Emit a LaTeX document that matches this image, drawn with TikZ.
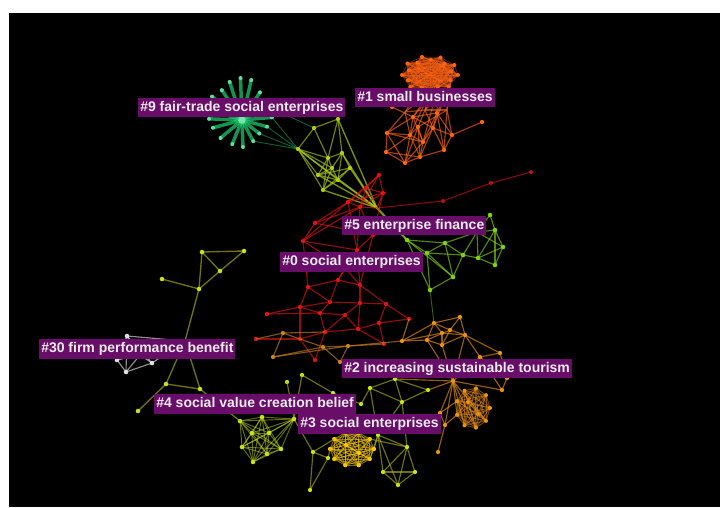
\documentclass[tikz,border=0pt]{standalone}
\usepackage{fontspec}
\setmainfont{Liberation Sans}
\usetikzlibrary{calc}
\definecolor{lab}{RGB}{104,14,104}
\definecolor{cG}{RGB}{30,210,115}
\definecolor{cO}{RGB}{255,100,20}
\definecolor{cYG}{RGB}{175,205,20}
\definecolor{cG5}{RGB}{130,210,20}
\definecolor{cR}{RGB}{225,20,20}
\definecolor{cO2}{RGB}{235,145,20}
\definecolor{cY3}{RGB}{245,200,10}
\definecolor{cOl}{RGB}{175,175,25}
\definecolor{cY4}{RGB}{200,225,30}
\definecolor{cW}{RGB}{225,225,225}
\definecolor{cB}{RGB}{200,130,30}
\tikzset{
  ed/.style={line width=0.85pt, opacity=0.65},
  edd/.style={line width=0.7pt, opacity=0.45},
  dense/.style={line width=0.7pt, opacity=0.5},
  lbl/.style={fill=lab, text=white!92!black, font=\bfseries\fontsize{10.5}{12}\selectfont,
    inner xsep=1.5pt, inner ysep=0pt, minimum height=14.5pt, text height=7.9pt, text depth=2.2pt, anchor=west},
}
\begin{document}
\begin{tikzpicture}[x=0.75pt,y=-0.75pt]
\useasboundingbox (0,0) rectangle (720,507);
\fill[white] (0,0) rectangle (720,507);
\fill[black] (9,13) rectangle (720,507);

% ---------- coordinates ----------
\foreach \n/\x/\y in {
 y1/314/128, y2/338/119, y3/298/149, y4/328/158, y5/342/153, y6/350/168, y7/318/175, y8/338/180, y9/323/190, y10/332/168, yc/377/208,
 rr1/443/201, rr2/491/183, rr3/531/172,
 o1/387/133, o2/386/152, o3/405/163, o4/420/157, o5/444/150, o6/452/135, o7/482/122, o8/410/135, o9/423/142, o10/433/128, o11/413/117, o12/437/113, o13/392/107,
 o14/405/112, o15/425/110, o16/447/110, o17/418/127,
 r1/379/175, r2/383/193, r3/348/202, r4/360/207, r5/315/223, r6/303/241, r7/373/235, r8/357/250, r9/366/188,
 r10/308/287, r11/338/280, r12/360/285, r13/330/302, r14/300/307, r15/320/313, r16/267/314, r17/360/303, r18/386/304, r19/345/315,
 r20/409/319, r21/379/323, r22/358/329, r23/325/332, r24/300/339, r25/256/339, r26/384/344, r27/315/360, r28/345/268,
 b1/283/333, b2/273/357, b3/340/362, b4/323/347, b5/348/346,
 p1/434/323, p2/460/317, p3/465/335, p4/402/341, p5/427/340, p6/442/345, p7/450/330, p8/442/333, p9/500/353, p10/480/357, p11/507/378, p12/502/390, ph/453/381,
 x1/440/413, x2/445/425, x3/438/452,
 s1/370/388, s2/395/379, s3/402/402, s4/428/390, s5/378/435, s6/407/447, s7/383/472, s8/415/472, s9/398/485,
 t1/287/382, t2/302/375, t3/333/393, t4/361/404,
 u1/313/452, u2/328/458, u3/310/490,
 f1/240/421, f2/252/433, f3/269/433, f4/262/417, f5/294/419, f6/281/449, f7/267/454, f8/253/462, f9/242/447,
 l1/202/252, l2/244/251, l3/220/271, l4/199/289, l5/162/279, l6/185/341, l7/166/384, l8/200/389, l9/138/411,
 w1/127/336, w2/152/363, w3/126/372, w4/117/360, w5/140/355,
 q1/407/240, q2/427/253, q3/445/243, q4/463/255, q5/453/277, q6/430/290, q7/477/232, q8/495/230, q9/503/247, q10/495/265, q11/478/258, q12/490/215
}{\coordinate (\n) at (\x,\y);}

% dense blobs
\coordinate (obc) at (430,75);
\foreach \a/\r [count=\i] in {0/1,22/0.8,45/0.95,68/0.75,90/1,112/0.8,135/1,158/0.85,180/1,200/0.8,220/1.05,238/0.85,255/1.1,272/0.9,290/1.1,308/0.85,326/1.05,344/0.8}
  {\coordinate (ob\i) at ($(obc)+(\a:{28*\r} and {17*\r})$);}
\coordinate (ob19) at (obc); \coordinate (ob20) at (418,68); \coordinate (ob21) at (441,81);
\coordinate (ob22) at (444,66); \coordinate (ob23) at (416,83);
\coordinate (yoc) at (352,449);
\foreach \a [count=\i] in {0,36,72,108,144,180,216,252,288,324}
  {\coordinate (yo\i) at ($(yoc)+(\a:22 and 17)$);}
\coordinate (yo11) at (346,445); \coordinate (yo12) at (359,453);
\coordinate (occ) at (473,408);
\foreach \a [count=\i] in {0,40,80,120,160,200,240,280,320}
  {\coordinate (oc\i) at ($(occ)+(\a:17 and 20)$);}
\coordinate (oc10) at (468,402); \coordinate (oc11) at (478,414);

% ---------- green star #9 ----------
\coordinate (g0) at (242,120);
\foreach \a/\r [count=\i] in {252/40,268/42,283/41,303/33,236/36,218/38,182/33,165/30,140/28,112/26,88/27,62/24,38/22,334/30,355/30,15/26,198/31,322/32}
 {\coordinate (g\i) at ($(g0)+(\a:\r)$);
  \draw[cG, line width=2.6pt, line cap=round, opacity=0.7] (g0) -- (g\i);
  \fill[cG!70!white] (g\i) circle (1.5pt);}
\fill[cG!60!white] (g0) circle (2.8pt);
\foreach \a/\b in {g13/y3, g15/y3, g12/y3, g14/y1, g16/y3}{\draw[edd,cG] (\a) -- (\b);}

% ---------- orange #1 ----------
\foreach \i in {1,...,23}{\foreach \j in {\i,...,23}{\draw[cO, line width=0.6pt, opacity=0.38] (ob\i) -- (ob\j);}}
\foreach \a/\b in {o1/o2,o1/o3,o2/o3,o1/o8,o2/o8,o3/o8,o1/o9,o3/o4,o4/o5,o5/o6,o6/o10,o6/o7,o10/o12,o11/o12,o11/o8,o8/o9,o9/o10,
 o9/o4,o4/o10,o5/o10,o3/o9,o4/o8,o11/o13,o1/o11,o12/o6,o11/o10,o12/ob3,o12/ob4,o11/ob5,o11/ob4,o10/ob3,o8/ob5,o9/ob4,o12/o9,o11/o9,o5/o12,o2/o4,
 o14/ob6,o14/ob5,o15/ob4,o15/ob5,o15/ob3,o16/ob2,o16/ob3,o14/o15,o15/o16,o14/o8,o15/o17,o16/o17,o17/o9,o17/o8,o17/o4,o16/o6,o14/o1,o15/o10,o17/o3,o16/o5}
 {\draw[ed,cO] (\a) -- (\b);}
\foreach \n in {o1,o2,o3,o4,o5,o6,o7,o8,o9,o10,o11,o12,o13,o17}{\fill[cO] (\n) circle (1.6pt);}
\foreach \i in {1,...,18}{\fill[cO] (ob\i) circle (1.5pt);}

% ---------- top yellow-green ----------
\foreach \a/\b in {y1/y2,y1/y4,y2/y5,y2/y4,y1/y3,y3/y4,y3/y7,y3/y9,y4/y5,y5/y6,y4/y7,y7/y8,y8/y9,y6/y8,y9/y4,y5/y8,y7/y6,y3/y8,y6/y9,
 y10/y4,y10/y5,y10/y7,y10/y8,y10/y9,y10/y3}{\draw[ed,cYG] (\a) -- (\b);}
\foreach \a in {y2,y3,y5,y6,y7,y8,y9}{\draw[cYG, line width=1pt, opacity=0.7] (\a) -- (yc);}
\draw[cYG, line width=1.5pt, opacity=0.75] (yc) -- (q1);
\foreach \n in {y1,y2,y3,y4,y5,y6,y7,y8,y9,y10}{\fill[cYG] (\n) circle (1.6pt);}

% ---------- red line ----------
\draw[cR, line width=0.8pt, opacity=0.6] (yc) -- (rr1) -- (rr2) -- (rr3);
\foreach \n in {rr1,rr2,rr3}{\fill[cR!85!black] (\n) circle (1.5pt);}

% ---------- red #0 ----------
\foreach \a/\b in {r1/r2,r1/r4,r2/r4,r3/r4,r3/r2,r1/r9,r9/r3,r9/r4,r4/yc,r2/yc,r5/r4,r5/r3,r6/r8,r6/r3,r7/r8,r7/r4,r7/r2,r8/r4,r5/r7,r6/r4,r9/r2,r6/r5,
 r8/r11,r8/r12,r6/r10,r10/r11,r11/r12,r10/r13,r11/r13,r12/r17,r13/r17,r13/r14,r14/r15,r15/r13,r15/r19,r19/r17,r17/r18,r18/r20,r18/r21,r20/r21,
 r21/r22,r22/r19,r22/r23,r23/r15,r23/r24,r24/r25,r24/r14,r16/r15,r16/r14,r23/r27,r22/r26,r26/r21,r24/r27,r12/r18,r10/r14,r17/r22,r19/r23,
 r28/r11,r28/r12,r28/r8,r6/r28,r7/r12,r1/r3,r3/r8}{\draw[ed,cR] (\a) -- (\b);}
\foreach \n in {r1,r2,r3,r4,r5,r6,r7,r8,r9,r10,r11,r12,r13,r14,r15,r16,r17,r18,r19,r20,r21,r22,r23,r24,r25,r26,r27,r28}{\fill[cR] (\n) circle (1.6pt);}

% ---------- green #5 ----------
\foreach \a/\b in {q1/q2,q1/q3,q2/q3,q2/q4,q3/q4,q2/q5,q4/q5,q5/q6,q2/q6,q1/q6,q3/q5,q4/q7,q7/q8,q8/q9,q9/q10,q10/q11,q11/q7,q7/q9,q8/q11,
 q8/q10,q11/q9,q4/q11,q3/q7,q12/q8,q12/q7,q1/q5}{\draw[ed,cG5] (\a) -- (\b);}
\draw[edd,cG5] (q6) -- (p1);
\foreach \n in {q1,q2,q3,q4,q5,q6,q7,q8,q9,q10,q11,q12}{\fill[cG5] (\n) circle (1.7pt);}

% ---------- brown links ----------
\foreach \a/\b in {b1/b4,b2/b4,b4/b3,b4/b5,b5/p4,b2/b5,b1/r23,b3/b5,b1/b2,b5/r26,r25/b1}{\draw[ed,cB] (\a) -- (\b);}
\foreach \n in {b1,b2,b3,b4,b5}{\fill[cB] (\n) circle (1.6pt);}

% ---------- orange #2 ----------
\foreach \a/\b in {p1/p2,p2/p3,p1/p7,p7/p3,p1/p5,p4/p5,p5/p6,p6/p7,p6/p3,p8/p1,p8/p6,p4/p8,p4/p1,p2/p7,p5/p7,p8/p3,p9/p10,p9/p11,p10/p11,
 p11/p12,p10/p12,p10/p3,p9/p3,p6/ph,p5/ph,p3/ph,ph/p10,ph/p12,r20/p4,ph/x1,ph/x2,x1/x2,x2/x3,x1/oc6,ph/oc3,ph/oc4,ph/oc5,ph/oc2,x2/oc5,ph/s4,ph/s2}
 {\draw[ed,cO2] (\a) -- (\b);}
\foreach \i in {1,...,11}{\foreach \j in {\i,...,11}{\draw[cO2, dense] (oc\i) -- (oc\j);}}
\foreach \n in {p1,p2,p3,p4,p5,p6,p7,p8,p9,p10,p11,p12,ph,x1,x2,x3}{\fill[cO2] (\n) circle (1.6pt);}
\foreach \i in {1,...,11}{\fill[cO2] (oc\i) circle (1.5pt);}

% ---------- olive right of #3 ----------
\foreach \a/\b in {s1/s3,s2/s3,s3/s4,s2/s4,s1/s5,s5/s6,s6/s7,s6/s8,s7/s9,s8/s9,s7/s8,s5/s7,s6/s9,s5/s9,s3/s6,s1/s2,s3/s5,t4/s1,t2/t3,t3/t4,yo1/s5,yo2/s5,yo10/s6}
 {\draw[ed,cOl] (\a) -- (\b);}
\foreach \n in {s1,s2,s3,s4,s5,s6,s7,s8,s9,t1,t2,t3,t4}{\fill[cY4] (\n) circle (1.6pt);}

% ---------- yellow #3 ----------
\foreach \i in {1,...,12}{\foreach \j in {\i,...,12}{\draw[cY3, line width=0.7pt, opacity=0.55] (yo\i) -- (yo\j);}}
\foreach \i in {1,...,12}{\fill[cY3] (yo\i) circle (1.6pt);}

% ---------- #4 cluster ----------
\foreach \i in {1,...,9}{\foreach \j in {\i,...,9}{\draw[cY4, dense] (f\i) -- (f\j);}}
\foreach \a/\b in {f5/u1,u1/u2,u1/u3,u2/u3,u2/yo6,u1/yo7,t1/f5,f5/t2}{\draw[ed,cOl] (\a) -- (\b);}
\foreach \i in {1,...,9}{\fill[cY4] (f\i) circle (1.7pt);}
\foreach \n in {u1,u2,u3}{\fill[cY4] (\n) circle (1.6pt);}

% ---------- left olive tree ----------
\foreach \a/\b in {l1/l2,l2/l3,l1/l3,l1/l4,l3/l4,l5/l4,l4/l6,l6/l7,l6/l8,l7/l8,l7/l9,l8/f1}{\draw[ed,cOl,line width=1pt] (\a) -- (\b);}
\foreach \n in {l1,l2,l3,l4,l5,l7,l8,l9}{\fill[cY4] (\n) circle (1.7pt);}

% ---------- white #30 ----------
\foreach \a/\b in {w1/w2,w1/w3,w1/w4,w1/w5,w2/w3,w2/w5,w3/w4,w3/w5,w4/w5,w2/l6,w1/l6}{\draw[ed,cW] (\a) -- (\b);}
\foreach \n in {w1,w2,w3,w4,w5}{\fill[cW] (\n) circle (1.7pt);}

% ---------- labels ----------
\node[lbl] (L9) at (138,107.5) {\#9 fair-trade social enterprises};
\node[lbl] (L1) at (355,97.5) {\#1 small businesses};
\node[lbl] (L5) at (342,225.5) {\#5 enterprise finance};
\node[lbl] (L0) at (280,262) {\#0 social enterprises};
\node[lbl] (L30) at (39,349) {\#30 firm performance benefit};
\node[lbl] (L2) at (342,368.5) {\#2 increasing sustainable tourism};
\node[lbl] (L4) at (154,404) {\#4 social value creation belief};
\node[lbl] (L3) at (298,424) {\#3 social enterprises};
\end{tikzpicture}
\end{document}
